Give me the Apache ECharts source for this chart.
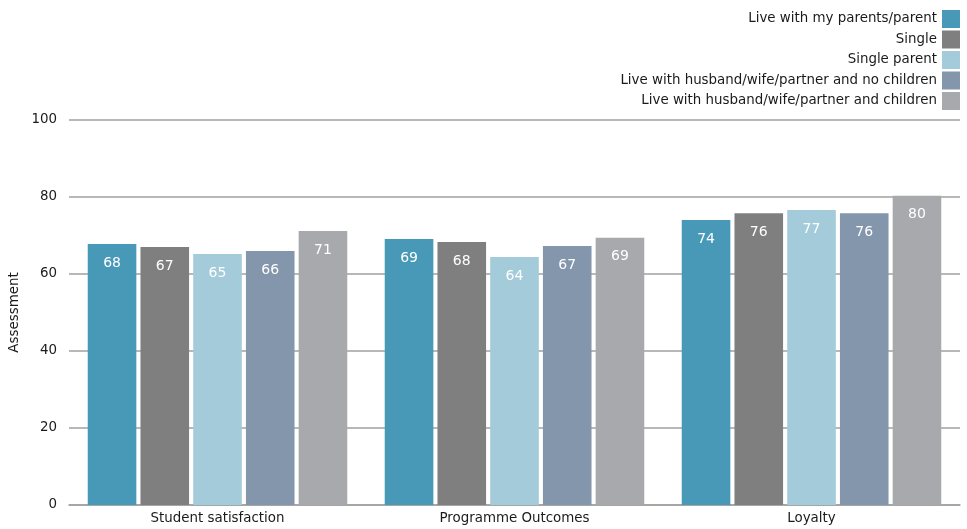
<!DOCTYPE html>
<html><head><meta charset="utf-8">
<script src="https://cdn.jsdelivr.net/npm/echarts@6/dist/echarts.min.js"></script>
<style>html,body{margin:0;padding:0;background:#fff}#c{width:967px;height:529px}</style>
</head><body><div id="c"></div>
<script>
var categories = ['Student satisfaction', 'Programme Outcomes', 'Loyalty'];
var seriesNames = ['Live with my parents/parent', 'Single', 'Single parent', 'Live with husband/wife/partner and no children', 'Live with husband/wife/partner and children'];
var livesWithParents = [67.8, 69.1, 74.0];
var single = [67.0, 68.3, 75.8];
var singleParent = [65.2, 64.4, 76.6];
var partnerNoChildren = [66.0, 67.3, 75.8];
var partnerChildren = [71.2, 69.4, 80.3];
var yTicks = [0, 20, 40, 60, 80, 100];
var colors = ['#4799b7', '#7f7f7f', '#a3cbd9', '#8496ab', '#a8a9ad'];

var allData = [livesWithParents, single, singleParent, partnerNoChildren, partnerChildren];
var font = 'DejaVu Sans';
var fs = 13.4;
var chart = echarts.init(document.getElementById('c'));
chart.setOption({
  animation: false,
  color: colors,
  textStyle: {fontFamily: font},
  legend: {
    orient: 'vertical', right: 2, top: 5, align: 'right',
    itemWidth: 18, itemHeight: 18, itemGap: 2.5,
    icon: 'rect',
    textStyle: {fontFamily: font, fontSize: fs, color: '#1a1a1a'},
    data: seriesNames
  },
  grid: {left: 67, right: 7, top: 120, bottom: 24},
  xAxis: {
    type: 'category', data: categories,
    axisTick: {show: false},
    axisLine: {lineStyle: {color: '#a0a0a0', width: 1.5}},
    axisLabel: {color: '#1a1a1a', fontSize: fs, fontFamily: font, margin: 7}
  },
  yAxis: {
    type: 'value', min: yTicks[0], max: yTicks[yTicks.length - 1], interval: 20,
    name: 'Assessment', nameLocation: 'middle', nameGap: 48, nameRotate: 90,
    nameMoveOverlap: false,
    nameTextStyle: {color: '#1a1a1a', fontSize: fs, fontFamily: font},
    axisLine: {show: false}, axisTick: {show: false},
    axisLabel: {color: '#1a1a1a', fontSize: fs, fontFamily: font, margin: 12},
    splitLine: {lineStyle: {color: '#a0a0a0', width: 1.5}}
  },
  series: seriesNames.map(function (n, i) {
    return {
      name: n, type: 'bar', data: allData[i],
      barWidth: 48.6, barGap: '8.5%',
      label: {
        show: true, position: 'insideTop', distance: 12,
        color: '#fff', fontSize: 14, fontFamily: font,
        formatter: function (p) { return Math.round(p.value); }
      }
    };
  })
});
</script></body></html>
